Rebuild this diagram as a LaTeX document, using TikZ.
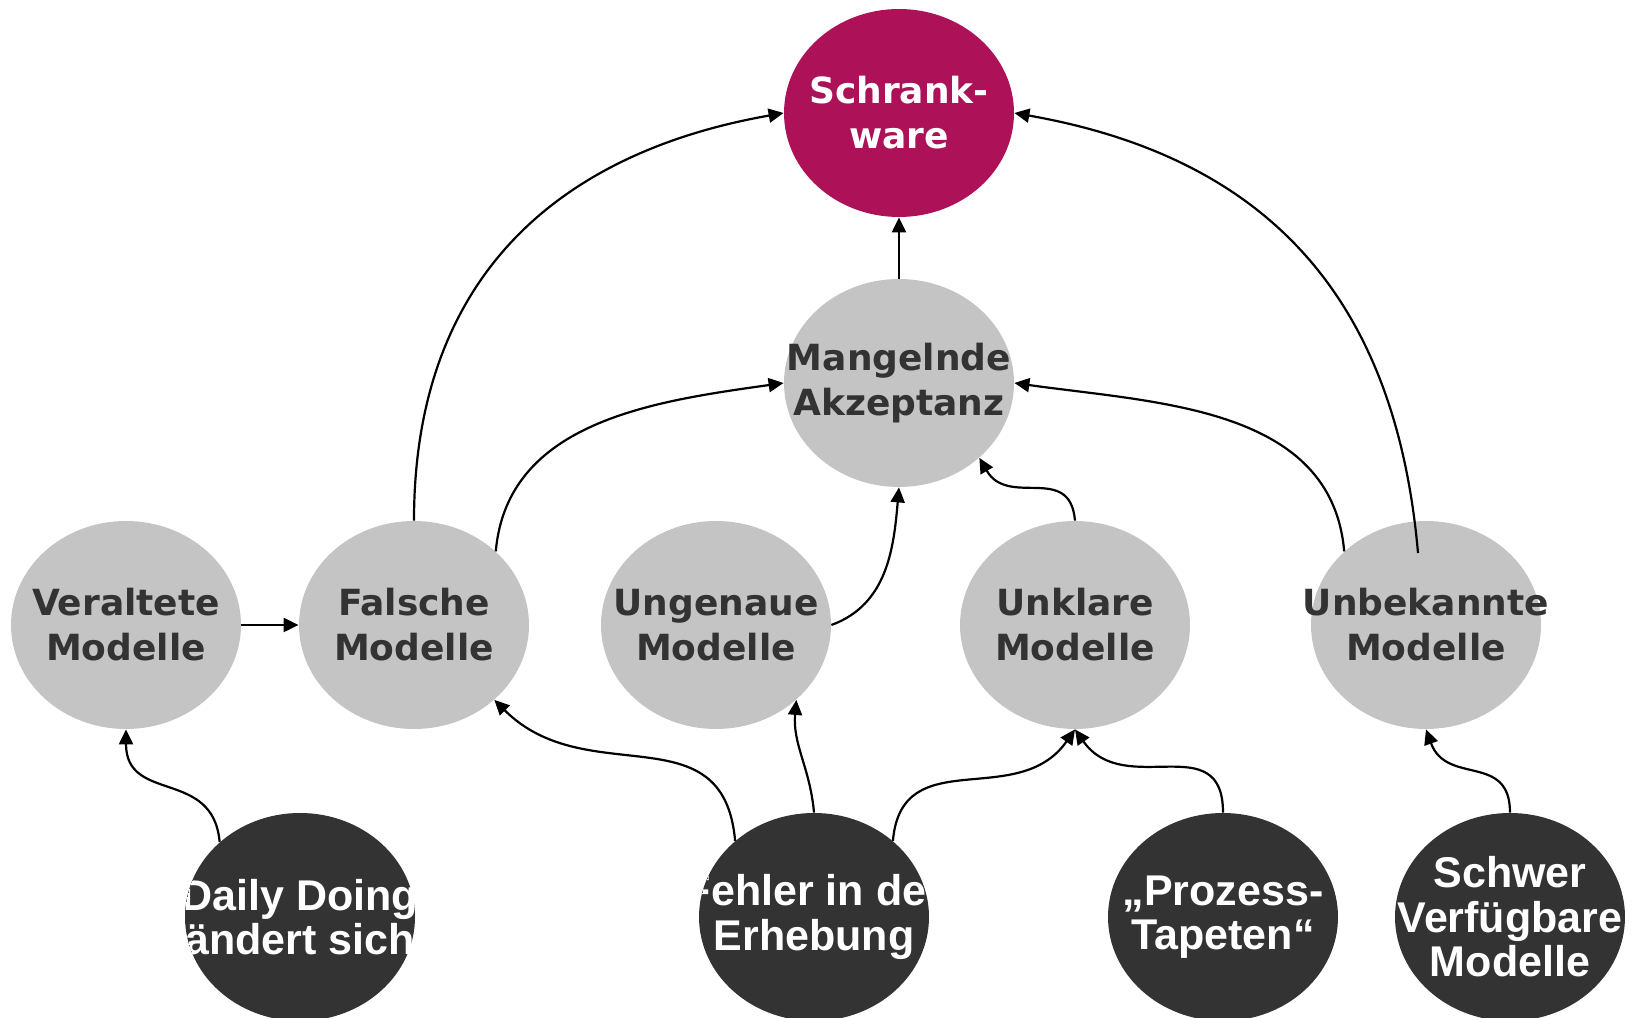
\documentclass[tikz,border=0pt]{standalone}
\usepackage{fontspec}
\setmainfont{DejaVu Sans}
\newfontfamily\darkfont{Liberation Sans}
\usetikzlibrary{shapes.geometric,arrows.meta,calc}
\definecolor{greyfill}{HTML}{C4C4C4}
\definecolor{darkfill}{HTML}{333333}
\definecolor{txtgrey}{HTML}{333333}
\definecolor{pink}{HTML}{AD1157}
\tikzset{
  base/.style={ellipse, minimum width=115pt, minimum height=104pt, inner sep=0pt},
  greytext/.style={inner sep=0pt, align=center, text=txtgrey, font=\bfseries\fontsize{18}{22.5}\selectfont},
  pinktext/.style={inner sep=0pt, align=center, text=white, font=\bfseries\fontsize{18}{22.5}\selectfont},
  greynode/.style={base, fill=greyfill, label={[greytext]center:{#1}}},
  pinknode/.style={base, fill=pink, label={[pinktext]center:{#1}}},
  darknode/.style={base, fill=darkfill,
    path picture={\node[rectangle, draw=none, fill=none, inner sep=0pt, minimum size=0pt, text=white, align=center,
      font=\darkfont\bfseries\fontsize{21.5}{22.2}\selectfont] at (path picture bounding box.center) {#1};}},
  conn/.style={line width=1.1pt, -{Triangle[length=7.5pt,width=7pt]}},
}
\begin{document}
\begin{tikzpicture}[x=0.5pt, y=0.5pt]
\path[use as bounding box] (0,0) rectangle (1635,1018);
\clip (0,0) rectangle (1635,1018);
\node[pinknode={Schrank-\\ware}] (schrank) at (899,905) {};
\node[greynode={Mangelnde\\Akzeptanz}] (mangel) at (899,635) {};
\node[greynode={Veraltete\\Modelle}] (veraltete) at (126,393) {};
\node[greynode={Falsche\\Modelle}] (falsche) at (414,393) {};
\node[greynode={Ungenaue\\Modelle}] (ungenaue) at (716,393) {};
\node[greynode={Unklare\\Modelle}] (unklare) at (1075,393) {};
\node[greynode={Unbekannte\\Modelle}] (unbek) at (1426,393) {};
\node[darknode={Daily Doing\\ändert sich}] (daily) at (300,101) {};
\node[darknode={Fehler in der\\Erhebung}] (fehler) at (814,101) {};
\node[darknode={„Prozess-\\Tapeten“}] (prozess) at (1223,101) {};
\node[darknode={Schwer\\Verfügbare\\Modelle}] (schwer) at (1510,101) {};
\coordinate (unbtop) at ($(unbek.center)+(-8,72)$);
\draw[conn] (mangel.north) -- (schrank.south);
\draw[conn] (falsche.north) to[out=90,in=190,looseness=1.1] (schrank.west);
\draw[conn] (unbtop) to[out=95,in=-10,looseness=1.1] (schrank.east);
\draw[conn] (falsche.42) to[out=85,in=188] (mangel.west);
\draw[conn] (unbek.138) to[out=95,in=-8] (mangel.east);
\draw[conn] (ungenaue.east) to[out=20,in=-95] (mangel.south);
\draw[conn] (unklare.north) to[out=95,in=-60,looseness=1.3] (mangel.-43);
\draw[conn] (veraltete.east) -- (falsche.west);
\draw[conn] (daily.137) to[out=95,in=-90,looseness=1.3] (veraltete.south);
\draw[conn] (fehler.136) to[out=95,in=-45,looseness=1.2] (falsche.-43);
\draw[conn] (fehler.north) to[out=95,in=-95] (ungenaue.-43);
\draw[conn] (fehler.44) to[out=85,in=-125,looseness=1.2] (unklare.south);
\draw[conn] (prozess.north) to[out=90,in=-55,looseness=1.3] (unklare.south);
\draw[conn] (schwer.north) to[out=90,in=-70,looseness=1.3] (unbek.south);
\end{tikzpicture}
\end{document}
